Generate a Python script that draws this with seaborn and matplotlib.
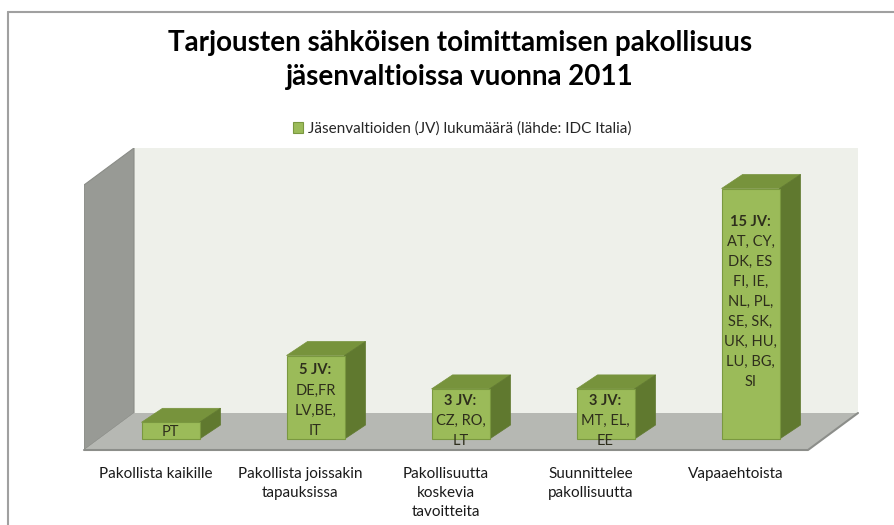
import numpy as np
import matplotlib
matplotlib.use("Agg")
import matplotlib.pyplot as plt
from matplotlib.patches import Polygon
from matplotlib.lines import Line2D
from matplotlib.transforms import ScaledTranslation
import pandas as pd
import seaborn as sns

# Data
categories = ["Pakollista kaikille", "Pakollista joissakin\ntapauksissa",
              "Pakollisuutta\nkoskevia\ntavoitteita", "Suunnittelee\npakollisuutta",
              "Vapaaehtoista"]
values = [1, 5, 3, 3, 15]
headers = ["", "5 JV:", "3 JV:", "3 JV:", "15 JV:"]
members = ["PT", "DE,FR\nLV,BE,\nIT", "CZ, RO,\nLT", "MT, EL,\nEE",
           "AT, CY,\nDK, ES\nFI, IE,\nNL, PL,\nSE, SK,\nUK, HU,\nLU, BG,\nSI"]
series_name = "Jäsenvaltioiden (JV) lukumäärä (lähde: IDC Italia)"
title = "Tarjousten sähköisen toimittamisen pakollisuus\njäsenvaltioissa vuonna 2011"

df = pd.DataFrame({"cat": categories, "n": values})

sns.set_style("white")
plt.rcParams["font.family"] = ["Lato", "DejaVu Sans"]

front = "#9bbb59"
top_c = "#77933c"
side_c = "#60792f"
edge_c = "#7a9840"

fig = plt.figure(figsize=(8.94, 5.25), dpi=100)
ax = fig.add_axes([84 / 894, 75 / 525, 774 / 894, 302 / 525])

# walls (axes fraction)
wx, wy = 50 / 774, 37 / 302
ax.add_patch(Polygon([(wx, wy), (1, wy), (1, 1), (wx, 1)], closed=True,
                     transform=ax.transAxes, facecolor="#eef0ea", edgecolor="none", zorder=0))
ax.add_patch(Polygon([(0, 0), (wx, wy), (wx, 1), (0, 1 - wy)], closed=True,
                     transform=ax.transAxes, facecolor="#989a95", edgecolor="#8a8c87", lw=0.8, zorder=0))
ax.add_patch(Polygon([(0, 0), (1 - wx, 0), (1, wy), (wx, wy)], closed=True,
                     transform=ax.transAxes, facecolor="#b6b8b3", edgecolor="none", zorder=0))
ax.plot([0, 1 - wx, 1], [0, 0, wy], transform=ax.transAxes, color="#8c8e8a", lw=1.5,
        zorder=1, clip_on=False)

sns.barplot(data=df, x="cat", y="n", color=front, width=0.4, edgecolor=edge_c,
            linewidth=0.8, saturation=1, label=series_name, ax=ax, zorder=3)

ax.set_xlim(-0.5966, 4.741)
ax.set_ylim(-11 / 16.7, 291 / 16.7)

# 3D depth for each bar
fig.canvas.draw()
dx, dy = 21, 14
inv = ax.transData.inverted()
for p in ax.patches:
    if not hasattr(p, "get_x") or p.get_height() <= 0:
        continue
    x0, w, h = p.get_x(), p.get_width(), p.get_height()
    pts = ax.transData.transform([(x0, 0), (x0 + w, 0), (x0 + w, h), (x0, h)])
    off = pts + np.array([dx, dy])
    bl, br, tr, tl = inv.transform(pts)
    obl, obr, otr, otl = inv.transform(off)
    ax.add_patch(Polygon([tl, tr, otr, otl], closed=True, facecolor=top_c,
                         edgecolor=top_c, lw=0.5, zorder=2))
    ax.add_patch(Polygon([br, tr, otr, obr], closed=True, facecolor=side_c,
                         edgecolor=side_c, lw=0.5, zorder=2))

# labels inside bars
head_off = [0, 8, 5, 5, 26]
txt_c = "#2e2e1c"
for i, v in enumerate(values):
    if headers[i]:
        ax.annotate(headers[i], (i, v), xytext=(0, -head_off[i]), textcoords="offset pixels",
                    ha="center", va="top", fontsize=10.5, fontweight="bold", color=txt_c, zorder=5)
        ax.annotate(members[i], (i, v), xytext=(0, -head_off[i] - 20), textcoords="offset pixels",
                    ha="center", va="top", fontsize=10.5, color=txt_c, linespacing=1.55, zorder=5)
    else:
        ax.annotate(members[i], (i, v), xytext=(0, -3), textcoords="offset pixels",
                    ha="center", va="top", fontsize=10.5, color=txt_c, zorder=5)

ax.set_xlabel("")
ax.set_ylabel("")
ax.set_yticks([])
ax.tick_params(axis="x", length=0, pad=12, labelsize=11, labelcolor="#1a1a1a")
shift = ScaledTranslation(-0.15, 0, fig.dpi_scale_trans)
for lab in ax.get_xticklabels():
    lab.set_linespacing(1.49)
    lab.set_transform(lab.get_transform() + shift)
for s in ax.spines.values():
    s.set_visible(False)
ax.set_facecolor("none")

leg = ax.legend(loc="center", bbox_to_anchor=(462 / 894, 1 - 129 / 525),
                bbox_transform=fig.transFigure, frameon=False, fontsize=11,
                handlelength=0.7, handleheight=0.7, handletextpad=0.3)
for h in leg.legend_handles:
    h.set_edgecolor(edge_c)

fig.text(460 / 894, 1 - 60 / 525, title, ha="center", va="center", fontsize=20,
         fontweight="bold", linespacing=1.38, color="#000000")

# chart frame
fig.add_artist(Line2D([7.5 / 894, 7.5 / 894], [0, 1 - 11.5 / 525], color="#a0a0a0", lw=1.5))
fig.add_artist(Line2D([7.5 / 894, 1], [1 - 11.5 / 525, 1 - 11.5 / 525], color="#a0a0a0", lw=1.5))

fig.savefig("out.png", dpi=100)
